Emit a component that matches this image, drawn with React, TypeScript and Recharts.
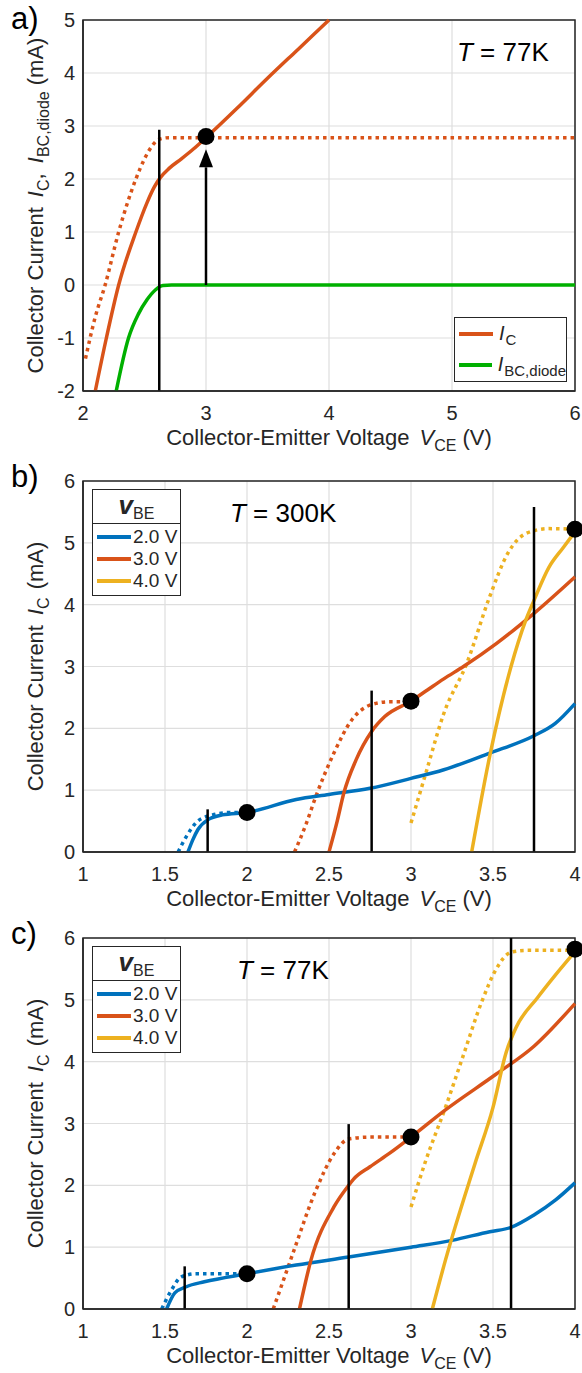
import {
  ComposedChart,
  Line,
  Scatter,
  XAxis,
  YAxis,
  CartesianGrid,
  ReferenceLine,
  ReferenceDot,
  ReferenceArea,
  Legend,
} from "recharts"

const FONT = '"Liberation Sans", Arial, Helvetica, sans-serif'
const INK = "#262626"
const BLUE = "#0072BD"
const ORANGE = "#D95319"
const YELLOW = "#EDB120"
const GREEN = "#00B000"

type Pt = [number, number]

// ---- a) T = 77K
const aXTicks = [2, 3, 4, 5, 6]
const aYTicks = [-2, -1, 0, 1, 2, 3, 4, 5]
const aIc: Pt[] = [
  [2.1, -2], [2.19, -1], [2.29, 0], [2.43, 1], [2.52, 1.55], [2.58, 1.85], [2.63, 2.03],
  [2.7, 2.2], [2.8, 2.38], [2.9, 2.57], [3, 2.78], [3.25, 3.33], [3.5, 3.9], [3.75, 4.45], [4, 5],
]
const aIcDotted: Pt[] = [
  [2.02, -1.39], [2.1, -0.6], [2.18, 0], [2.29, 1], [2.43, 2], [2.5, 2.38], [2.56, 2.62],
  [2.62, 2.75], [2.7, 2.78], [3, 2.78], [4, 2.78], [5, 2.78], [6, 2.78],
]
const aIbc: Pt[] = [
  [2.27, -2], [2.37, -1], [2.45, -0.55], [2.52, -0.28], [2.59, -0.09], [2.65, -0.01], [2.72, 0], [6, 0],
]
const aKnee: Pt[] = [[2.62, 2.93]]
const aMarker: Pt[] = [[3, 2.8]]
const aArrow: Pt[] = [[3, 0], [3, 2.22]]

// ---- b), c) vBE = 2, 3, 4 V
const vbeNames = ["2.0 V", "3.0 V", "4.0 V"]
const vbeColors = [BLUE, ORANGE, YELLOW]
const bcXTicks = [1, 1.5, 2, 2.5, 3, 3.5, 4]
const bcYTicks = [0, 1, 2, 3, 4, 5, 6]

// b) T = 300K
const b2: Pt[] = [
  [1.64, 0], [1.67, 0.2], [1.7, 0.36], [1.76, 0.52], [1.85, 0.6], [2, 0.64], [2.3, 0.85], [2.5, 0.93],
  [2.75, 1.03], [3, 1.19], [3.2, 1.33], [3.48, 1.6], [3.75, 1.88], [3.88, 2.08], [4, 2.4],
]
const b2Dotted: Pt[] = [[1.58, 0], [1.63, 0.25], [1.7, 0.5], [1.79, 0.6], [1.9, 0.64], [2, 0.64]]
const b3: Pt[] = [
  [2.5, 0], [2.55, 0.5], [2.59, 0.95], [2.665, 1.49], [2.76, 1.95], [2.84, 2.19], [3, 2.44],
  [3.1, 2.62], [3.2, 2.8], [3.32, 3.0], [3.52, 3.37], [3.75, 3.86], [4, 4.45],
]
const b3Dotted: Pt[] = [
  [2.29, 0], [2.36, 0.45], [2.42, 0.9], [2.53, 1.6], [2.64, 2.14], [2.755, 2.38], [2.87, 2.43], [3, 2.43],
]
const b4: Pt[] = [
  [3.37, 0], [3.48, 1.55], [3.61, 3.0], [3.7, 3.75], [3.75, 4.07], [3.84, 4.6], [3.93, 4.93], [4, 5.18],
]
const b4Dotted: Pt[] = [
  [3, 0.47], [3.09, 1.27], [3.2, 2.24], [3.34, 3.05], [3.48, 4.13], [3.59, 4.83], [3.7, 5.15], [3.84, 5.23], [4, 5.22],
]
const bKnees: Pt[] = [[1.76, 0.69], [2.76, 2.61], [3.75, 5.58]]
const bMarkers: Pt[] = [[2, 0.64], [3, 2.44], [4, 5.22]]

// c) T = 77K
const c2: Pt[] = [
  [1.51, 0], [1.56, 0.26], [1.63, 0.36], [1.74, 0.44], [2, 0.57], [2.3, 0.71], [2.62, 0.84], [3, 1.0],
  [3.25, 1.11], [3.48, 1.25], [3.61, 1.32], [3.75, 1.52], [3.88, 1.76], [4, 2.04],
]
const c2Dotted: Pt[] = [[1.48, 0], [1.54, 0.31], [1.6, 0.52], [1.69, 0.57], [2, 0.57]]
const c3: Pt[] = [
  [2.32, 0], [2.39, 0.79], [2.53, 1.65], [2.62, 2.0], [2.65, 2.1], [2.75, 2.3], [2.87, 2.52], [3, 2.78],
  [3.21, 3.22], [3.52, 3.8], [3.75, 4.25], [4, 4.94],
]
const c3Dotted: Pt[] = [
  [2.16, 0], [2.22, 0.45], [2.28, 0.9], [2.42, 1.92], [2.53, 2.51], [2.62, 2.75], [2.755, 2.78], [3, 2.78],
]
const c4: Pt[] = [
  [3.13, 0], [3.21, 0.79], [3.39, 2.35], [3.5, 3.26], [3.58, 4.15], [3.64, 4.55], [3.77, 5.03], [3.88, 5.4], [4, 5.78],
]
const c4Dotted: Pt[] = [
  [3, 1.65], [3.09, 2.4], [3.21, 3.26], [3.32, 4.11], [3.43, 4.96], [3.52, 5.5], [3.61, 5.77], [3.7, 5.8], [4, 5.8],
]
const cKnees: Pt[] = [[1.62, 0.69], [2.62, 2.99], [3.61, 6]]
const cMarkers: Pt[] = [[2, 0.57], [3, 2.78], [4, 5.82]]

const toXY = (pts: Pt[]) => pts.map(([x, y]) => ({ x, y }))

type Curve = { pts: Pt[]; color: string; dotted?: boolean }

// plot box inside each 582x470 chart: x 83..575, y 20..391
const W = 582
const H = 470
const PLOT_L = 83
const PLOT_R = 575
const PLOT_B = 391

const XTitle = () => (
  <text x={(PLOT_L + PLOT_R) / 2} y={PLOT_B + 54} textAnchor="middle" fontSize={22} fontFamily={FONT} fill={INK}>
    Collector-Emitter Voltage
    <tspan dx={10} fontStyle="italic">V</tspan>
    <tspan dy={6} fontSize={16}>CE</tspan>
    <tspan dx={6} dy={-6}>(V)</tspan>
  </text>
)

const makeYTitle = (withDiode: boolean) => () => {
  const cx = 43
  const cy = (20 + PLOT_B) / 2
  return (
    <text x={cx} y={cy} transform={`rotate(-90, ${cx}, ${cy})`} textAnchor="middle" fontSize={22} fontFamily={FONT} fill={INK}>
      Collector Current
      <tspan dx={10} fontStyle="italic">I</tspan>
      <tspan dy={6} fontSize={16}>C</tspan>
      {withDiode ? (
        <>
          <tspan dy={-6}>, </tspan>
          <tspan dx={4} fontStyle="italic">I</tspan>
          <tspan dy={6} fontSize={16}>BC,diode</tspan>
          <tspan dx={6} dy={-6}>(mA)</tspan>
        </>
      ) : (
        <tspan dx={8} dy={-6}>(mA)</tspan>
      )}
    </text>
  )
}

const Arrowhead = (p: any) => (
  <polygon points={`${p.cx - 7},${p.cy} ${p.cx + 7},${p.cy} ${p.cx},${p.cy - 18}`} fill="#000" />
)

const Marker = (p: any) => <circle cx={p.cx} cy={p.cy} r={8.5} fill="#000" />

function LegendA() {
  const rows = [
    { color: ORANGE, main: "I", sub: "C" },
    { color: GREEN, main: "I", sub: "BC,diode" },
  ]
  return (
    <div style={{ width: 113, height: 65, border: `1.5px solid ${INK}`, background: "#fff", boxSizing: "border-box", fontFamily: FONT, color: INK }}>
      {rows.map((r) => (
        <div key={r.sub} style={{ display: "flex", alignItems: "center", height: 31 }}>
          <span style={{ width: 34, height: 4, background: r.color, marginLeft: 4, marginRight: 6 }} />
          <span style={{ fontSize: 20, fontStyle: "italic" }}>{r.main}</span>
          <span style={{ fontSize: 15, position: "relative", top: 6, marginLeft: 1 }}>{r.sub}</span>
        </div>
      ))}
    </div>
  )
}

function VbeLegend() {
  return (
    <div style={{ width: 89, height: 107, border: `1.5px solid ${INK}`, background: "#fff", boxSizing: "border-box", fontFamily: FONT, color: INK }}>
      <div style={{ height: 33, borderBottom: `1.5px solid ${INK}`, textAlign: "center", lineHeight: "30px" }}>
        <span style={{ fontSize: 26, fontStyle: "italic", fontWeight: "bold" }}>v</span>
        <span style={{ fontSize: 16, position: "relative", top: 5 }}>BE</span>
      </div>
      <div style={{ paddingTop: 2 }}>
        {vbeNames.map((n, i) => (
          <div key={n} style={{ display: "flex", alignItems: "center", height: 22, fontSize: 19 }}>
            <span style={{ width: 34, height: 4, background: vbeColors[i], marginLeft: 4, marginRight: 2 }} />
            {n}
          </div>
        ))}
      </div>
    </div>
  )
}

type PanelProps = {
  top: number
  letter: string
  letterTop: number
  temp: string
  tempLeft: number
  xDomain: [number, number]
  xTicks: number[]
  yDomain: [number, number]
  yTicks: number[]
  curves: Curve[]
  knees: Pt[]
  markers: Pt[]
  withDiode: boolean
  legend: any
  legendPos: { left: number; top: number }
  arrow?: Pt[]
}

function Panel(p: PanelProps) {
  const [y0] = p.yDomain
  return (
    <div style={{ position: "absolute", left: 0, top: p.top, width: W, height: H }}>
      <ComposedChart width={W} height={H} margin={{ top: 20, right: W - PLOT_R, bottom: 0, left: 0 }}>
        <CartesianGrid stroke="#dedede" strokeWidth={1.2} />
        <XAxis
          type="number"
          dataKey="x"
          domain={p.xDomain}
          ticks={p.xTicks}
          height={H - PLOT_B}
          tickLine={false}
          tickMargin={9}
          axisLine={{ stroke: INK, strokeWidth: 1.5 }}
          tick={{ fontSize: 20, fill: INK, fontFamily: FONT }}
          label={XTitle}
        />
        <YAxis
          type="number"
          dataKey="y"
          domain={p.yDomain}
          ticks={p.yTicks}
          width={PLOT_L}
          tickLine={false}
          tickMargin={2}
          axisLine={{ stroke: INK, strokeWidth: 1.5 }}
          tick={{ fontSize: 20, fill: INK, fontFamily: FONT }}
          label={makeYTitle(p.withDiode)}
        />
        <ReferenceArea
          x1={p.xDomain[0]}
          x2={p.xDomain[1]}
          y1={p.yDomain[0]}
          y2={p.yDomain[1]}
          fill="none"
          stroke={INK}
          strokeWidth={1.5}
        />
        {p.curves.map((c, i) => (
          <Line
            key={"c" + i}
            data={toXY(c.pts)}
            dataKey="y"
            type="monotone"
            stroke={c.color}
            strokeWidth={3.5}
            strokeDasharray={c.dotted ? "3.5 4" : undefined}
            dot={false}
            activeDot={false}
            legendType="none"
            isAnimationActive={false}
          />
        ))}
        {p.knees.map(([x, y], i) => (
          <ReferenceLine
            key={"k" + i}
            segment={[{ x, y: y0 }, { x, y }]}
            stroke="#000"
            strokeWidth={2.5}
          />
        ))}
        {p.arrow && (
          <ReferenceLine
            segment={[{ x: p.arrow[0][0], y: p.arrow[0][1] }, { x: p.arrow[1][0], y: p.arrow[1][1] }]}
            stroke="#000"
            strokeWidth={2.5}
          />
        )}
        {p.arrow && <ReferenceDot x={p.arrow[1][0]} y={p.arrow[1][1]} shape={Arrowhead} />}
        <Scatter
          data={toXY(p.markers)}
          dataKey="y"
          fill="#000"
          shape={Marker}
          legendType="none"
          isAnimationActive={false}
        />
        <Legend
          layout="vertical"
          align="center"
          verticalAlign="middle"
          content={p.legend}
          wrapperStyle={{ left: p.legendPos.left, top: p.legendPos.top, width: "auto" }}
        />
      </ComposedChart>
      <div style={{ position: "absolute", left: 11, top: p.letterTop, fontSize: 31, lineHeight: "31px", fontFamily: FONT, color: "#000" }}>
        {p.letter}
      </div>
      <div style={{ position: "absolute", left: p.tempLeft, top: 39, fontSize: 26, lineHeight: "26px", fontFamily: FONT, color: "#000", whiteSpace: "pre" }}>
        <span style={{ fontStyle: "italic" }}>T</span> = {p.temp}
      </div>
    </div>
  )
}

export default function App() {
  return (
    <div style={{ position: "absolute", left: 0, top: 0, width: 582, height: 1373, overflow: "hidden", background: "#fff" }}>
      <Panel
        top={0}
        letter="a)"
        letterTop={3}
        temp="77K"
        tempLeft={457}
        xDomain={[2, 6]}
        xTicks={aXTicks}
        yDomain={[-2, 5]}
        yTicks={aYTicks}
        curves={[
          { pts: aIcDotted, color: ORANGE, dotted: true },
          { pts: aIc, color: ORANGE },
          { pts: aIbc, color: GREEN },
        ]}
        knees={aKnee}
        markers={aMarker}
        withDiode
        legend={LegendA}
        legendPos={{ left: 454, top: 317 }}
        arrow={aArrow}
      />
      <Panel
        top={461}
        letter="b)"
        letterTop={0}
        temp="300K"
        tempLeft={230}
        xDomain={[1, 4]}
        xTicks={bcXTicks}
        yDomain={[0, 6]}
        yTicks={bcYTicks}
        curves={[
          { pts: b2Dotted, color: BLUE, dotted: true },
          { pts: b3Dotted, color: ORANGE, dotted: true },
          { pts: b4Dotted, color: YELLOW, dotted: true },
          { pts: b2, color: BLUE },
          { pts: b3, color: ORANGE },
          { pts: b4, color: YELLOW },
        ]}
        knees={bKnees}
        markers={bMarkers}
        withDiode={false}
        legend={VbeLegend}
        legendPos={{ left: 92, top: 28 }}
      />
      <Panel
        top={918}
        letter="c)"
        letterTop={0}
        temp="77K"
        tempLeft={237}
        xDomain={[1, 4]}
        xTicks={bcXTicks}
        yDomain={[0, 6]}
        yTicks={bcYTicks}
        curves={[
          { pts: c2Dotted, color: BLUE, dotted: true },
          { pts: c3Dotted, color: ORANGE, dotted: true },
          { pts: c4Dotted, color: YELLOW, dotted: true },
          { pts: c2, color: BLUE },
          { pts: c3, color: ORANGE },
          { pts: c4, color: YELLOW },
        ]}
        knees={cKnees}
        markers={cMarkers}
        withDiode={false}
        legend={VbeLegend}
        legendPos={{ left: 92, top: 28 }}
      />
    </div>
  )
}
